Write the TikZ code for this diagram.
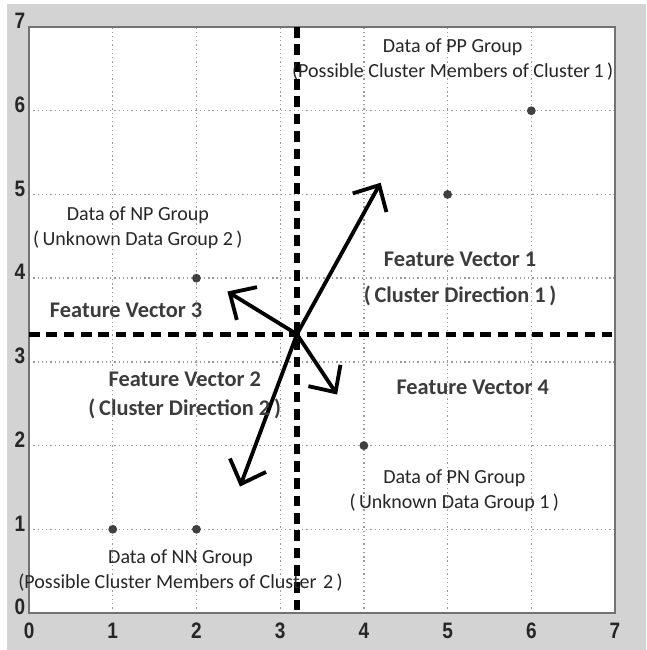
\documentclass[tikz,border=0pt]{standalone}
\usepackage{fontspec}
\setmainfont{Carlito}
\newfontfamily\axisfont{Liberation Sans}
\usepackage{tikz}
\usetikzlibrary{positioning,arrows.meta}
\definecolor{framegray}{HTML}{D3D3D3}
\definecolor{textgray}{HTML}{262626}
\tikzset{
  vecarrow/.style={-{Straight Barb[length=2.4mm, width=4.6mm, line width=1.3pt]}, line width=1.3pt, black},
  splitline/.style={line width=1.8pt, dash pattern=on 3.6pt off 2.3pt, black},
  gridline/.style={gray!80, densely dotted, line width=0.45pt},
  datadot/.style={circle, fill=black!75, inner sep=0pt, minimum size=3pt},
  grouplabel/.style={font=\fontsize{6.8}{8}\selectfont, text=textgray, inner sep=0pt, align=center},
  veclabel/.style={font=\bfseries\fontsize{7.6}{9}\selectfont, text=textgray!90, inner sep=0pt, align=center},
  ticklabel/.style={font=\axisfont\bfseries\fontsize{7.6}{9}\selectfont, text=black!85, inner sep=0pt, xscale=0.85}
}
\begin{document}
\begin{tikzpicture}
  \useasboundingbox (-0.347,-0.442) rectangle (7.371,7.323);
  \fill[white] (-0.347,-0.442) rectangle (7.371,7.323);
  \fill[framegray] (-0.263,-0.442) rectangle (7.371,7.275);
  \fill[white] (0,0) rectangle (7,7);
  % grid
  \foreach \g in {1,...,6} {
    \draw[gridline] (\g,0) -- (\g,7);
    \draw[gridline] (0,\g) -- (7,\g);
  }
  \draw[gray!90!black, line width=0.7pt] (0,0) rectangle (7,7);
  % tick labels
  \foreach \t in {0,...,7} {
    \node[ticklabel] (xt\t) at (\t,-0.21) {\t};
    \node[ticklabel, anchor=east] (yt\t) at (-0.04,\t+0.07) {\t};
  }
  % data points
  \node[datadot] (nn1) at (1,1) {};
  \node[datadot] (nn2) at (2,1) {};
  \node[datadot] (np) at (2,4) {};
  \node[datadot] (pp1) at (5,5) {};
  \node[datadot] (pp2) at (6,6) {};
  \node[datadot] (pn) at (4,2) {};
  % splitting lines
  \coordinate (vtop) at (3.2,7);
  \coordinate (vbot) at (3.2,0);
  \coordinate (hleft) at (0,3.33);
  \coordinate (hright) at (7,3.33);
  \draw[splitline] (vtop) -- (vbot);
  \draw[splitline] (hleft) -- (hright);
  % feature vectors
  \coordinate (origin) at (3.2,3.33);
  \coordinate (fv1) at (4.2,5.14);
  \coordinate (fv2) at (2.52,1.51);
  \coordinate (fv3) at (2.37,3.84);
  \coordinate (fv4) at (3.68,2.61);
  \draw[vecarrow] (origin) -- (fv1);
  \draw[vecarrow] (origin) -- (fv2);
  \draw[vecarrow] (origin) -- (fv3);
  \draw[vecarrow] (origin) -- (fv4);
  % group labels
  \node[grouplabel] (pplab) at (5.06,6.61) {Data of PP Group\\[0.5pt](Possible Cluster Members of Cluster\,1\,)};
  \node[grouplabel] (nplab) at (1.30,4.60) {Data of NP Group\\[0.5pt](\,Unknown Data Group 2\,)};
  \node[grouplabel] (pnlab) at (5.08,1.46) {Data of PN Group\\[0.5pt](\,Unknown Data Group 1\,)};
  \node[grouplabel] (nnlab) at (1.81,0.51) {Data of NN Group\\[0.5pt](Possible Cluster Members of Cluster\,\,2\,)};
  % vector labels
  \node[veclabel] (v1lab) at (5.15,3.99) {Feature Vector 1\\[3pt](\,Cluster Direction 1\,)};
  \node[veclabel] (v2lab) at (1.86,2.60) {Feature Vector 2\\[1pt](\,Cluster Direction 2\,)};
  \node[veclabel] (v3lab) at (1.16,3.62) {Feature Vector 3};
  \node[veclabel] (v4lab) at (5.30,2.69) {Feature Vector 4};
\end{tikzpicture}
\end{document}
